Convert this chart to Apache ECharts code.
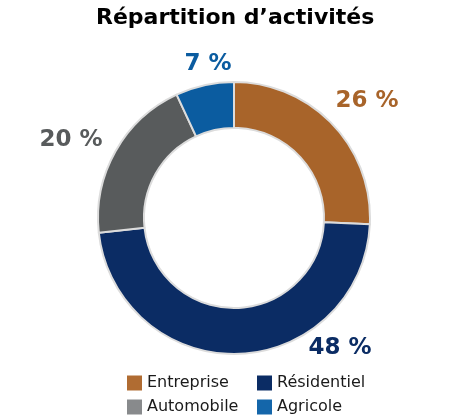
<!DOCTYPE html>
<html>
<head>
<meta charset="utf-8">
<script src="https://cdn.jsdelivr.net/npm/echarts@6/dist/echarts.min.js"></script>
<style>
html,body{margin:0;padding:0;background:#fff;}
#c{width:470px;height:420px;}
</style>
</head>
<body>
<div id="c"></div>
<script>
const categories = ['Entreprise', 'Résidentiel', 'Automobile', 'Agricole'];
const values = [26, 48, 20, 7];
const labels = ['26 %', '48 %', '20 %', '7 %'];

const sliceColors = ['#A8642A', '#0B2C64', '#585B5C', '#0B5CA0'];
const legendColors = ['#B06C32', '#0B2C64', '#888A8C', '#1466AA'];
const labelAnchors = [[367, 101], [340, 348], [71, 140], [208, 64]];
const legendSlots = [[127, 375], [257, 375], [127, 399], [257, 399]];

const chart = echarts.init(document.getElementById('c'));
const font = 'DejaVu Sans, Verdana, sans-serif';

const legends = categories.map((c, i) => ({
  orient: 'horizontal',
  left: legendSlots[i][0],
  top: legendSlots[i][1],
  itemWidth: 15,
  itemHeight: 15,
  itemTextGap: 6,
  icon: 'rect',
  selectedMode: false,
  padding: 0,
  textStyle: { fontFamily: font, fontSize: 16, color: '#1a1a1a' },
  data: [{ name: c, itemStyle: { color: legendColors[i], borderWidth: 0 } }]
}));

chart.setOption({
  animation: false,
  title: {
    text: 'Répartition d’activités',
    left: 91,
    top: 2,
    textStyle: { fontFamily: font, fontSize: 22, fontWeight: 'bold', color: '#000' }
  },
  legend: legends,
  series: [{
    type: 'pie',
    center: [234, 218],
    radius: [90, 136],
    startAngle: 90,
    clockwise: true,
    avoidLabelOverlap: false,
    silent: true,
    itemStyle: { borderColor: '#dcdcdc', borderWidth: 2 },
    label: {
      show: true,
      position: 'outside',
      fontFamily: font,
      fontSize: 23,
      fontWeight: 'bold',
      formatter: p => labels[p.dataIndex]
    },
    labelLine: { show: false },
    labelLayout: function (p) {
      const a = labelAnchors[p.dataIndex];
      return { x: a[0], y: a[1], align: 'center', verticalAlign: 'middle' };
    },
    data: categories.map((c, i) => ({
      name: c,
      value: values[i],
      itemStyle: { color: sliceColors[i] },
      label: { color: sliceColors[i] }
    }))
  }]
});
</script>
</body>
</html>
